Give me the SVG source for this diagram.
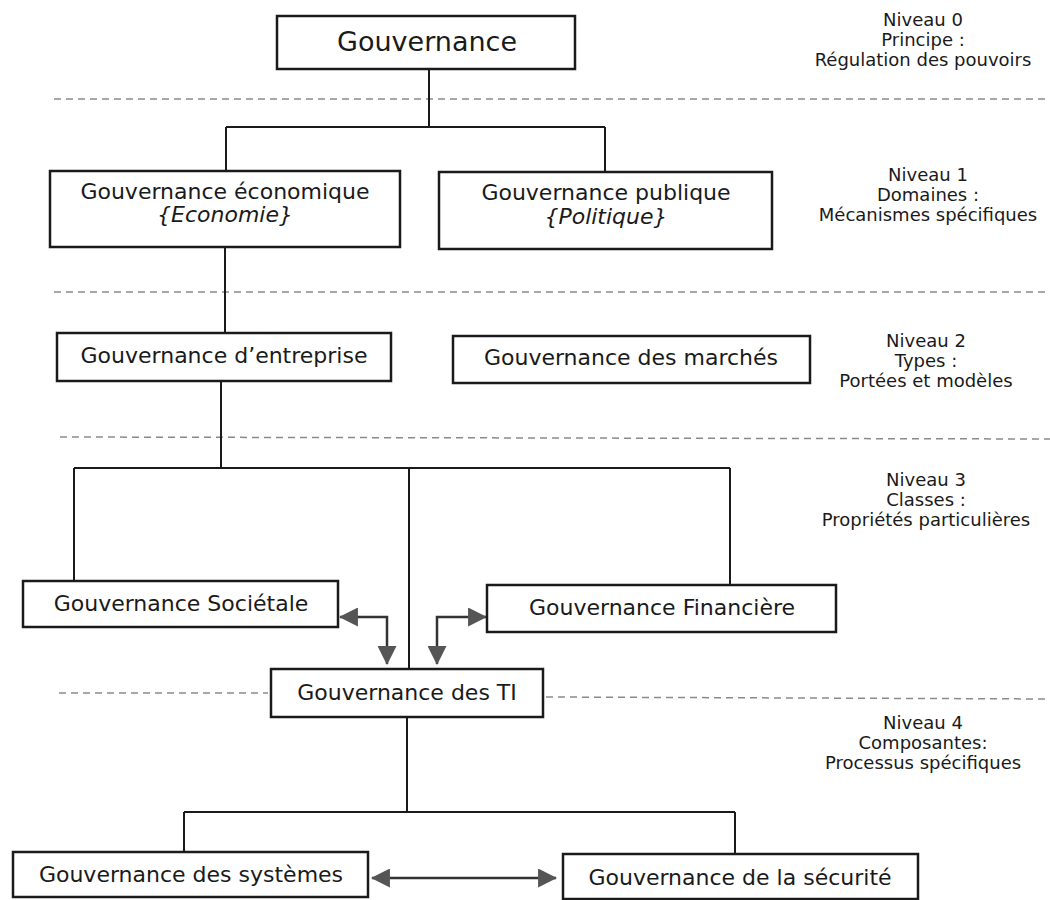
<svg xmlns="http://www.w3.org/2000/svg" width="1050" height="900" viewBox="0 0 1050 900">
<style>
.box{fill:#fff;stroke:#1a1a1a;stroke-width:2.5}
.t{font-family:"DejaVu Sans","Liberation Sans",sans-serif;font-size:22px;fill:#1a1a1a;text-anchor:middle}
.it{font-style:italic}
.side{font-family:"DejaVu Sans","Liberation Sans",sans-serif;font-size:18px;fill:#1a1a1a;text-anchor:middle}
.ln{fill:none;stroke:#1a1a1a;stroke-width:2}
.dash{fill:none;stroke:#8a8a8a;stroke-width:1.5;stroke-dasharray:7 5}
.arr{fill:none;stroke:#333;stroke-width:2.5;marker-start:url(#ah);marker-end:url(#ah)}
</style>
<defs>
<marker id="ah" viewBox="0 0 18 18" refX="17" refY="9" markerWidth="19" markerHeight="19" markerUnits="userSpaceOnUse" orient="auto-start-reverse">
<path d="M0,0 L18,9 L0,18 z" fill="#555"/>
</marker>
</defs>
<rect width="1050" height="900" fill="#fff"/>
<g id="separators">
<line class="dash" x1="54" y1="99" x2="1050" y2="99"/>
<line class="dash" x1="54" y1="292" x2="1050" y2="292"/>
<line class="dash" x1="60" y1="437" x2="1050" y2="439"/>
<line class="dash" x1="59" y1="693" x2="268" y2="693"/>
<line class="dash" x1="546" y1="697" x2="1050" y2="699"/>
</g>
<g id="connectors">
<path class="ln" d="M429 69 V127 M226 127 H605 M226 127 V171 M605 127 V172"/>
<path class="ln" d="M225 247 V333"/>
<path class="ln" d="M221 381 V468 M74 468 H730 M74 468 V581 M730 468 V585 M409 468 V669"/>
<path class="ln" d="M407 717 V812 M184 812 H735 M184 812 V852 M735 812 V854"/>
<path class="arr" d="M340 617 H387 V664"/>
<path class="arr" d="M486 617 H437 V664"/>
<path class="arr" d="M372 878 H556"/>
</g>
<g id="n0"><rect class="box" x="277" y="16" width="298" height="53"/><text class="t" x="427" y="51" style="font-size:27px">Gouvernance</text></g>
<g id="n1a"><rect class="box" x="50" y="171" width="350" height="76"/><text class="t" x="225" y="199">Gouvernance économique</text><text class="t it" x="225" y="222">{Economie}</text></g>
<g id="n1b"><rect class="box" x="439" y="172" width="333" height="77"/><text class="t" x="606" y="200">Gouvernance publique</text><text class="t it" x="606" y="224">{Politique}</text></g>
<g id="n2a"><rect class="box" x="57" y="333" width="334" height="48"/><text class="t" x="224" y="363">Gouvernance d’entreprise</text></g>
<g id="n2b"><rect class="box" x="453" y="336" width="357" height="47"/><text class="t" x="631" y="365">Gouvernance des marchés</text></g>
<g id="n3a"><rect class="box" x="23" y="581" width="315" height="46"/><text class="t" x="181" y="611">Gouvernance Sociétale</text></g>
<g id="n3b"><rect class="box" x="487" y="585" width="349" height="47"/><text class="t" x="662" y="615">Gouvernance Financière</text></g>
<g id="nTI"><rect class="box" x="271" y="669" width="272" height="48"/><text class="t" x="407" y="700">Gouvernance des TI</text></g>
<g id="n4a"><rect class="box" x="13" y="852" width="355" height="45"/><text class="t" x="191" y="882">Gouvernance des systèmes</text></g>
<g id="n4b"><rect class="box" x="563" y="854" width="355" height="45"/><text class="t" x="740" y="885">Gouvernance de la sécurité</text></g>
<g id="levels">
<text class="side" x="923" y="26">Niveau 0</text>
<text class="side" x="923" y="46">Principe :</text>
<text class="side" x="923" y="66">Régulation des pouvoirs</text>
<text class="side" x="928" y="181">Niveau 1</text>
<text class="side" x="928" y="201">Domaines :</text>
<text class="side" x="928" y="221">Mécanismes spécifiques</text>
<text class="side" x="926" y="347">Niveau 2</text>
<text class="side" x="926" y="367">Types :</text>
<text class="side" x="926" y="387">Portées et modèles</text>
<text class="side" x="926" y="486">Niveau 3</text>
<text class="side" x="926" y="506">Classes :</text>
<text class="side" x="926" y="526">Propriétés particulières</text>
<text class="side" x="923" y="729">Niveau 4</text>
<text class="side" x="923" y="749">Composantes:</text>
<text class="side" x="923" y="769">Processus spécifiques</text>
</g>
</svg>
